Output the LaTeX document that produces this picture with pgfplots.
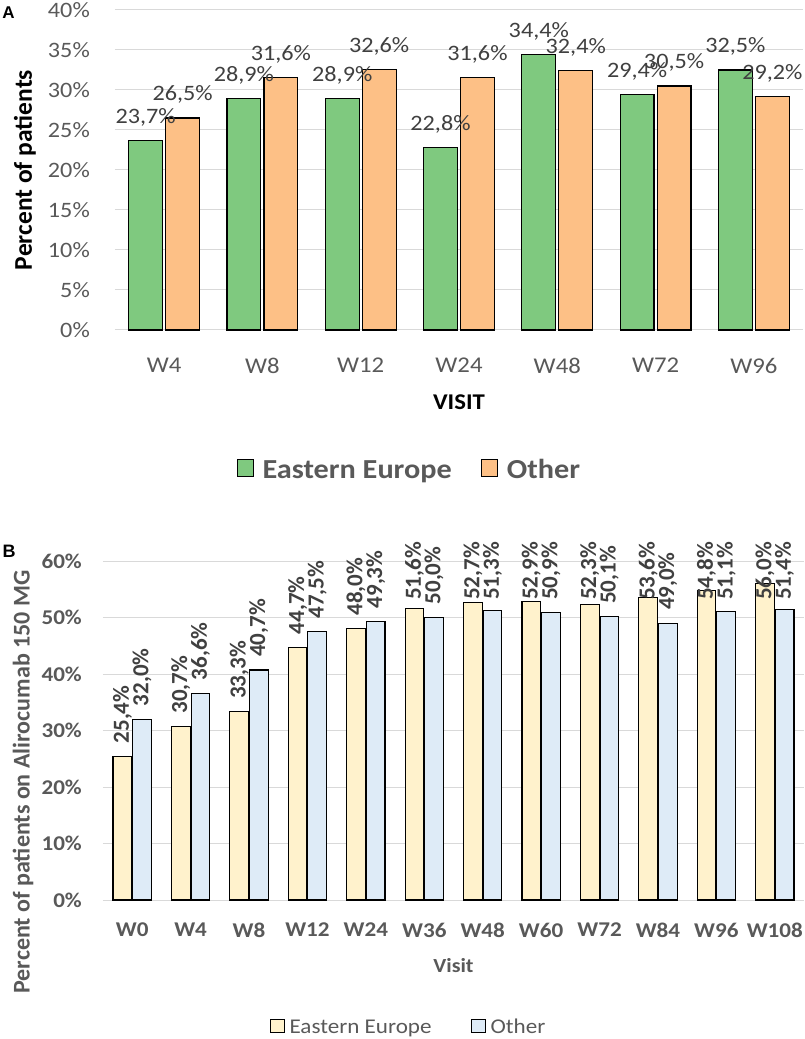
\documentclass[border=0pt]{standalone}
\usepackage{pgfplots}
\pgfplotsset{compat=1.18}
\usepackage{pgfplotstable}
\usepackage{fontspec}
\setmainfont{Carlito}[FakeStretch=1.1]
\newfontfamily\rotf{Carlito}
\newfontfamily\arialf{Liberation Sans}
\definecolor{gridc}{HTML}{D9D9D9}
\definecolor{tickc}{HTML}{595959}
\definecolor{labc}{HTML}{404040}
\definecolor{greenA}{HTML}{7FC97F}
\definecolor{orangeA}{HTML}{FDC086}
\definecolor{yellowB}{HTML}{FFF2CC}
\definecolor{blueB}{HTML}{DEEBF7}
\newcommand{\fs}[1]{\fontsize{#1}{#1}\selectfont}

\pgfplotstableread{
x ee ot
0 23.7 26.5
1 28.9 31.6
2 28.9 32.6
3 22.8 31.6
4 34.4 32.4
5 29.4 30.5
6 32.5 29.2
}\dataA

\pgfplotstableread{
x ee ot
0 25.4 32.0
1 30.7 36.6
2 33.3 40.7
3 44.7 47.5
4 48.0 49.3
5 51.6 50.0
6 52.7 51.3
7 52.9 50.9
8 52.3 50.1
9 53.6 49.0
10 54.8 51.1
11 56.0 51.4
}\dataB

\pgfplotsset{
  commonaxis/.style={
    scale only axis, anchor=south west, clip=false,
    enlargelimits=false,
    ymajorgrids, grid style={draw=gridc, line width=1pt},
    axis x line*=bottom, axis y line*=left,
    x axis line style={draw=gridc, line width=1pt, -},
    y axis line style={draw=none},
    major tick length=0pt,
    tick style={draw=none},
    yticklabel={\pgfmathprintnumber[assume math mode=true]{\tick}\%},
  },
}

\begin{document}
\begin{tikzpicture}
\useasboundingbox (0pt,0pt) rectangle (805pt,1039pt);
\node[font=\arialf\bfseries\fs{17}, anchor=center, inner sep=0pt] at (8.5pt,1026.5pt) {A};
\node[font=\arialf\bfseries\fs{18}, anchor=center, inner sep=0pt] at (9pt,487.5pt) {B};

% ---------------- Panel A ----------------
\begin{axis}[commonaxis, ybar,
  at={(115pt,709pt)}, width=688pt, height=320pt,
  xmin=-0.5, xmax=6.5, ymin=0, ymax=40,
  xtick={0,...,6}, xticklabels={W4,W8,W12,W24,W48,W72,W96},
  ytick={0,5,...,40},
  yticklabel style={font=\fs{22}, text=tickc, inner sep=0pt, xshift=-25pt},
  xticklabel style={font=\fs{22.5}, text=tickc, inner sep=0pt, yshift=-28pt},
  xlabel={VISIT},
  xlabel style={at={(axis description cs:0.5,-0.225)}, anchor=center, font=\bfseries\fs{22.5}, text=black},
  ylabel={Percent of patients},
  ylabel style={at={(axis description cs:-0.1308,0.5)}, anchor=center, rotate=0, font=\rotf\bfseries\fs{25.5}, text=black},
  legend style={at={(axis description cs:0.427,-0.4375)}, anchor=center, draw=none, fill=none,
    legend columns=-1, font=\bfseries\fs{27.5}, text=tickc,
    nodes={inner sep=1pt}},
  legend image code/.code={\draw[#1, line width=1pt] (0pt,-6pt) rectangle (16pt,11pt); \path (24pt,0pt);},
  nodes near coords={\pgfmathprintnumber[fixed,fixed zerofill,precision=1,use comma,assume math mode=true]{\pgfplotspointmeta}\%},
  every node near coord/.append style={font=\fs{22}, text=labc, anchor=base, inner sep=0pt, yshift=17pt},
]
\addplot[bar width=0.345, bar shift=-0.188, fill=greenA, draw=black, line width=1.1pt]
  table[x=x, y=ee] {\dataA};
\addplot[bar width=0.345, bar shift=0.188, fill=orangeA, draw=black, line width=1.1pt]
  table[x=x, y=ot] {\dataA};
\legend{Eastern Europe\hspace*{28pt}, Other}
\end{axis}

% ---------------- Panel B ----------------
\begin{axis}[commonaxis,
  at={(103pt,139pt)}, width=701pt, height=339pt,
  xmin=-0.5, xmax=11.5, ymin=0, ymax=60,
  xtick={0,...,11}, xticklabels={W0,W4,W8,W12,W24,W36,W48,W60,W72,W84,W96,W108},
  ytick={0,10,...,60},
  yticklabel style={font=\bfseries\fs{21}, text=tickc, inner sep=0pt, xshift=-21pt},
  xticklabel style={font=\bfseries\fs{21}, text=tickc, inner sep=0pt, yshift=-23pt},
  xlabel={Visit},
  xlabel style={at={(axis description cs:0.5,-0.192)}, anchor=center, font=\bfseries\fs{20}, text=tickc},
  ylabel={Percent of patients on Alirocumab 150 MG},
  ylabel style={at={(axis description cs:-0.114,0.348)}, anchor=center, rotate=0, font=\rotf\bfseries\fs{24}, text=tickc},
  legend style={at={(axis description cs:0.435,-0.375)}, anchor=center, draw=none, fill=none,
    legend columns=-1, font=\fs{21}, text=tickc,
    nodes={inner sep=1pt}},
  legend image code/.code={\draw[#1, line width=1pt] (0pt,-5pt) rectangle (14pt,8pt); \path (18pt,0pt);},
]
\addplot[ybar, bar width=0.32, bar shift=-0.168, fill=yellowB, draw=black, line width=1.1pt]
  table[x=x, y=ee] {\dataB};
\addplot[ybar, bar width=0.32, bar shift=0.168, fill=blueB, draw=black, line width=1.1pt]
  table[x=x, y=ot] {\dataB};
\legend{Eastern Europe\hspace*{38pt}, Other}
\addplot[forget plot, draw=none, mark=none, point meta=explicit,
  nodes near coords={\pgfmathprintnumber[fixed,fixed zerofill,precision=1,use comma,assume math mode=true]{\pgfplotspointmeta}\%},
  every node near coord/.append style={rotate=90, anchor=west, inner sep=0pt, font=\rotf\bfseries\fs{23}, text=labc}]
  table[x expr=\thisrow{x}-0.168, y expr={min(\thisrow{ee}+2.3,53.1)}, meta=ee] {\dataB};
\addplot[forget plot, draw=none, mark=none, point meta=explicit,
  nodes near coords={\pgfmathprintnumber[fixed,fixed zerofill,precision=1,use comma,assume math mode=true]{\pgfplotspointmeta}\%},
  every node near coord/.append style={rotate=90, anchor=west, inner sep=0pt, font=\rotf\bfseries\fs{23}, text=labc}]
  table[x expr=\thisrow{x}+0.168, y expr={min(\thisrow{ot}+2.3,53.1)}, meta=ot] {\dataB};
\end{axis}
\end{tikzpicture}
\end{document}
